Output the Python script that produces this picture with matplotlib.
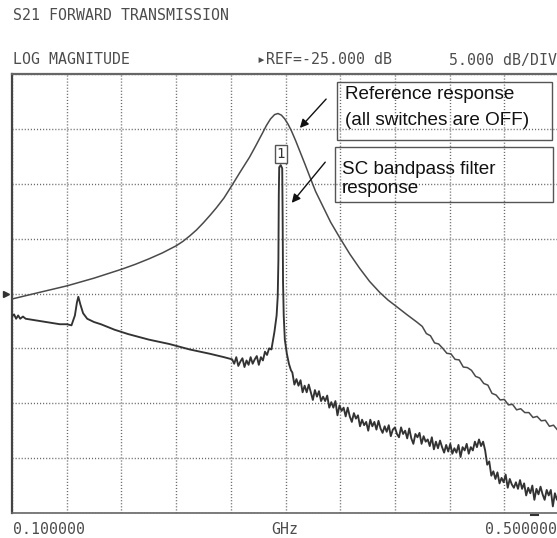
import numpy as np
import matplotlib
matplotlib.use("Agg")
import matplotlib.pyplot as plt
import matplotlib.transforms as mtrans
from matplotlib.patches import Rectangle, FancyArrowPatch

# ---------------- data ----------------
x_ticks = [0.10, 0.14, 0.18, 0.22, 0.26, 0.30, 0.34, 0.38, 0.42, 0.46, 0.50]
y_ticks = [-45, -40, -35, -30, -25, -20, -15, -10, -5]
ref_level = -25.0

# reference response (all switches OFF)
ref_f = [0.100, 0.120, 0.1403, 0.160, 0.1799, 0.190, 0.200, 0.210, 0.2201,
         0.2250, 0.2300, 0.2350, 0.2400, 0.2450, 0.2494, 0.2550, 0.2611, 0.2670,
         0.2736, 0.2780, 0.2831,
         0.2860, 0.2890, 0.2920, 0.2945, 0.2970, 0.2995, 0.3020, 0.3044, 0.3075,
         0.3110, 0.3145, 0.3176, 0.3220, 0.3271, 0.3330, 0.3396, 0.3470, 0.3542,
         0.3615, 0.3689, 0.3750, 0.3813, 0.3885, 0.3960,
         0.400, 0.403, 0.406, 0.409, 0.412, 0.415, 0.418, 0.421, 0.424, 0.427,
         0.430, 0.433, 0.436, 0.439, 0.442, 0.445, 0.448, 0.451, 0.454, 0.457,
         0.460, 0.463, 0.466, 0.469, 0.472, 0.475, 0.478, 0.481, 0.484, 0.487,
         0.490, 0.493, 0.496, 0.499]
ref_db = [-25.5, -24.9, -24.3, -23.6, -22.8, -22.35, -21.85, -21.3, -20.65,
          -20.25, -19.75, -19.2, -18.55, -17.85, -17.2, -16.3, -15.1, -13.9,
          -12.6, -11.6, -10.4,
          -9.7, -9.1, -8.7, -8.6, -8.75, -9.1, -9.6, -10.2, -11.1,
          -12.2, -13.3, -14.3, -15.7, -17.0, -18.5, -19.9, -21.4, -22.7,
          -23.9, -24.9, -25.6, -26.2, -26.9, -27.6,
          -28.0, -28.65, -28.85, -29.5, -29.6, -30.0, -30.45, -30.5, -31.0, -31.05,
          -31.7, -31.75, -32.0, -32.55, -32.7, -33.2, -33.35, -34.1, -34.25, -34.7,
          -34.65, -35.15, -35.1, -35.6, -35.5, -35.85, -35.85, -36.3, -36.2, -36.6,
          -36.55, -37.1, -37.0, -37.45]

# SC bandpass filter response, low-frequency part
flt_low_f = [0.100, 0.1015, 0.103, 0.1045, 0.106, 0.108, 0.110, 0.115, 0.120, 0.125,
             0.130, 0.135, 0.140, 0.1435, 0.1460, 0.1475, 0.1485, 0.1500, 0.1520,
             0.1550, 0.1600, 0.1650, 0.1750, 0.1850, 0.2000, 0.2150, 0.2300,
             0.2450, 0.2550]
flt_low_db = [-27.1, -26.9, -27.3, -27.0, -27.3, -27.1, -27.3, -27.4, -27.5, -27.6,
              -27.7, -27.8, -27.8, -27.9, -27.0, -25.8, -25.3, -26.0, -26.8,
              -27.3, -27.6, -27.8, -28.3, -28.7, -29.2, -29.6, -30.1,
              -30.5, -30.8]

# noisy part just below the passband (sweep 0.2610 .. 0.2880 GHz)
flt_mid_range = (0.2610, 0.2880)
flt_mid_db = [-31.0, -31.4, -30.8, -31.6, -31.2, -30.9, -31.7, -31.1, -31.5, -30.8,
              -31.4, -31.0, -30.7, -31.5, -30.8, -31.1, -30.3, -30.6, -30.0]

# passband peak
flt_peak_f = [0.2897, 0.2919, 0.2935, 0.2943, 0.2948, 0.2951, 0.2954, 0.2965,
              0.2976, 0.2979, 0.2982, 0.2987, 0.2995, 0.3010, 0.3025, 0.3040]
flt_peak_db = [-30.1, -28.5, -27.0, -25.3, -22.0, -16.0, -13.5, -13.3,
               -13.6, -18.0, -24.0, -27.0, -29.2, -30.5, -31.4, -32.0]

# noisy upper stopband (sweep 0.3050 .. 0.5000 GHz)
flt_tail_range = (0.3050, 0.5000)
flt_tail_db = [
    -32.2, -33.3, -32.8, -33.4, -32.9, -34.0, -33.4, -34.0, -33.3, -34.0,
    -34.7, -33.8, -34.4, -33.9, -34.8, -34.4, -34.8, -34.3, -35.4, -34.9,
    -35.4, -34.8, -36.1, -35.2, -35.7, -35.4, -36.2, -35.4, -36.2, -36.7,
    -35.9, -36.4, -36.1, -37.1, -36.5, -37.0, -36.7, -37.5, -36.5, -37.1,
    -36.7, -37.4, -36.6, -37.3, -37.7, -37.1, -37.6, -37.0, -38.0, -37.4,
    -37.2, -37.8, -38.1, -37.2, -37.8, -37.5, -38.2, -37.3, -38.2, -38.7,
    -37.8, -38.1, -37.7, -38.7, -38.0, -38.5, -38.3, -38.9, -38.1, -39.2,
    -38.5, -39.1, -38.4, -39.0, -39.5, -38.8, -39.4, -38.7, -39.6, -39.1,
    -39.5, -38.8, -39.9, -39.0, -39.3, -38.7, -39.6, -39.0, -39.3, -38.5,
    -39.0, -38.3, -38.9, -38.5, -39.3, -40.6, -40.3, -41.6, -41.2, -41.9,
    -41.3, -42.3, -41.8, -42.2, -41.5, -42.7, -41.9, -42.4, -42.7, -42.2,
    -42.8, -42.0, -42.8, -42.3, -43.4, -42.7, -43.2, -42.5, -43.8, -42.8,
    -43.3, -42.6, -43.3, -43.8, -42.9, -43.4, -42.9, -44.4, -43.2, -43.8,
    -43.1]

marker_label = "1"
bottom_marker_f = 0.482

# ---------------- figure ----------------
W, H = 557, 538
fig = plt.figure(figsize=(W / 100, H / 100), dpi=100)
fig.patch.set_facecolor("white")


def P(x, y):
    return (x / W, 1 - y / H)


ax = fig.add_axes([12 / W, 25 / H, 547 / W, 439 / H])
ax.set_xlim(x_ticks[0], x_ticks[-1])
ax.set_ylim(y_ticks[0], y_ticks[-1])
ax.set_xticks(x_ticks)
ax.set_yticks(y_ticks)
ax.tick_params(length=0, labelbottom=False, labelleft=False)
ax.grid(True, color="#6a6a6a", lw=1.0, ls=(0, (0.8, 1.4)))
ax.set_axisbelow(True)
ax.spines["left"].set_linewidth(1.6)
ax.spines["left"].set_color("#444444")
ax.spines["top"].set_linewidth(1.6)
ax.spines["top"].set_color("#666666")
ax.spines["bottom"].set_linewidth(1.2)
ax.spines["bottom"].set_color("#666666")
ax.spines["right"].set_visible(False)

flt_mid_f = np.linspace(flt_mid_range[0], flt_mid_range[1], len(flt_mid_db))
flt_tail_f = np.linspace(flt_tail_range[0], flt_tail_range[1], len(flt_tail_db))
flt_f = np.concatenate([flt_low_f, flt_mid_f, flt_peak_f, flt_tail_f])
flt_db = np.concatenate([flt_low_db, flt_mid_db, flt_peak_db, flt_tail_db])

ax.plot(ref_f, ref_db, color="#4a4a4a", lw=1.1, zorder=3)
ax.plot(flt_f, flt_db, color="#333333", lw=1.35, zorder=4)

# marker box at peak
pk = int(np.argmax(flt_db))
ax.text(flt_f[pk], flt_db[pk] + 1.0, marker_label, ha="center", va="center",
        fontsize=10, family=["DejaVu Sans Mono", "DejaVu Sans"], color="#333333",
        bbox=dict(boxstyle="square,pad=0.12", fc="white", ec="#555555", lw=1.0),
        zorder=6)

# reference level pointer on the left
tr = mtrans.blended_transform_factory(ax.transAxes, ax.transData)
ax.plot([-0.011], [ref_level], marker=">", ms=5, color="#333333",
        transform=tr, clip_on=False)
# small marker dash under the axis
tr2 = mtrans.blended_transform_factory(ax.transData, ax.transAxes)
ax.plot([bottom_marker_f - 0.0025, bottom_marker_f + 0.0025], [-0.005, -0.005],
        color="#333333", lw=1.5, transform=tr2, clip_on=False)

# header / footer texts
mono = ["DejaVu Sans Mono", "DejaVu Sans"]
tcol = "#4d4d4d"
fs = 10.7
fig.text(*P(13, 15), "S21 FORWARD TRANSMISSION", ha="left", va="center",
         fontsize=fs, family=mono, color=tcol)
fig.text(*P(13, 60), "LOG MAGNITUDE", ha="left", va="center",
         fontsize=fs, family=mono, color=tcol)
fig.text(*P(257, 60), "\u25b8REF=-25.000 dB", ha="left", va="center",
         fontsize=fs, family=mono, color=tcol)
fig.text(*P(557, 60), "5.000 dB/DIV", ha="right", va="center",
         fontsize=fs, family=mono, color=tcol)
fig.text(*P(13, 529), "0.100000", ha="left", va="center",
         fontsize=fs, family=mono, color=tcol)
fig.text(*P(285, 529), "GHz", ha="center", va="center",
         fontsize=fs, family=mono, color=tcol)
fig.text(*P(557, 529), "0.500000", ha="right", va="center",
         fontsize=fs, family=mono, color=tcol)

# annotation boxes
sans = ["Liberation Sans", "DejaVu Sans"]
for (x0, y0, x1, y1) in [(337, 82, 552, 140), (335, 147, 553, 202)]:
    fig.add_artist(Rectangle(P(x0, y1), (x1 - x0) / W, (y1 - y0) / H,
                             transform=fig.transFigure, fill=False,
                             ec="#555555", lw=1.0))
fig.text(*P(345, 99), "Reference response", ha="left", va="baseline",
         fontsize=13.6, family=sans, color="#111111")
fig.text(*P(345, 125), "(all switches are OFF)", ha="left", va="baseline",
         fontsize=13.6, family=sans, color="#111111")
fig.text(*P(342, 174), "SC bandpass filter", ha="left", va="baseline",
         fontsize=13.6, family=sans, color="#111111")
fig.text(*P(342, 193), "response", ha="left", va="baseline",
         fontsize=13.6, family=sans, color="#111111")

for (xs, ys, xe, ye) in [(328, 97, 298, 130), (327, 160, 290, 205)]:
    fig.add_artist(FancyArrowPatch(P(xs, ys), P(xe, ye),
                                   transform=fig.transFigure,
                                   arrowstyle="-|>,head_length=5,head_width=2.5",
                                   color="#111111", lw=1.0))

fig.savefig("out.png", dpi=100)
